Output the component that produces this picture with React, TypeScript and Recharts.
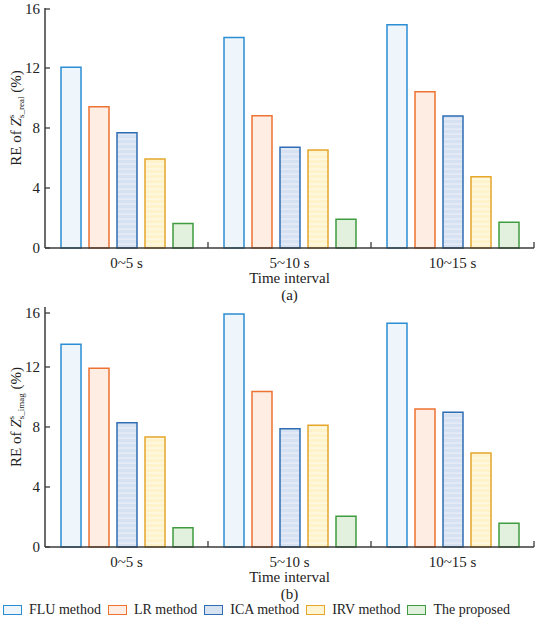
import React from "react";
import { Bar, BarChart, XAxis, YAxis } from "recharts";

const FONT = '"Liberation Serif", "Times New Roman", serif';
const AXIS = "#3b3b3b";

const categories = ["0~5 s", "5~10 s", "10~15 s"];
const seriesNames = ["FLU method", "LR method", "ICA method", "IRV method", "The proposed"];
const yTicks = [0, 4, 8, 12, 16];

// (a) real part
const realFlu = [12.05, 14.04, 14.89];
const realLr = [9.42, 8.82, 10.42];
const realIca = [7.69, 6.71, 8.8];
const realIrv = [5.93, 6.53, 4.75];
const realProposed = [1.64, 1.91, 1.71];

// (b) imaginary part
const imagFlu = [13.51, 15.53, 14.91];
const imagLr = [11.91, 10.36, 9.2];
const imagIca = [8.29, 7.89, 8.98];
const imagIrv = [7.33, 8.11, 6.27];
const imagProposed = [1.29, 2.05, 1.58];

const strokes = ["#2b8dd3", "#ee7232", "#2e6db4", "#e5a62b", "#3f9b3f"];
const fills = ["#eef6fb", "#fdede3", "url(#icaStripe)", "url(#irvStripe)", "#e2f1dd"];
const legendFills = ["#eef6fb", "#fdede3", "#d8e3f2", "#fff5d2", "#e2f1dd"];

function buildRows(cols: number[][]) {
  return categories.map((name, i) => {
    const row: Record<string, any> = { name };
    cols.forEach((c, k) => (row["s" + k] = c[i]));
    return row;
  });
}

const realRows = buildRows([realFlu, realLr, realIca, realIrv, realProposed]);
const imagRows = buildRows([imagFlu, imagLr, imagIca, imagIrv, imagProposed]);

function XTick(props: any) {
  const { x, y, payload } = props;
  const half = payload && payload.offset ? payload.offset : 81.5;
  return (
    <g>
      <line x1={x + half} x2={x + half} y1={y - 8} y2={y - 14} stroke={AXIS} strokeWidth={1.3} />
      <text x={x} y={y + 12} textAnchor="middle" fontSize={15} fill="#222" fontFamily={FONT}>
        {payload.value}
      </text>
    </g>
  );
}

function YTick(props: any) {
  const { x, y, payload } = props;
  return (
    <g>
      <line x1={x + 4} x2={x + 9} y1={y} y2={y} stroke={AXIS} strokeWidth={1.3} />
      <text x={x - 1} y={y + 5} textAnchor="end" fontSize={15} fill="#222" fontFamily={FONT}>
        {payload.value}
      </text>
    </g>
  );
}

function YLabel(props: any) {
  const { viewBox, sub } = props;
  const cx = 21;
  const cy = viewBox.y + viewBox.height / 2 - 10;
  return (
    <text
      x={cx}
      y={cy}
      transform={`rotate(-90 ${cx} ${cy})`}
      textAnchor="middle"
      fontSize={15}
      fill="#222"
      fontFamily={FONT}
    >
      <tspan>RE of </tspan>
      <tspan fontStyle="italic">Z</tspan>
      <tspan fontSize={9} dy={-7}>s</tspan>
      <tspan fontSize={9} dx={-3.5} dy={10}>{sub}</tspan>
      <tspan dy={-3}> (%)</tspan>
    </text>
  );
}

function XLabel(props: any) {
  const { viewBox, tag } = props;
  const cx = viewBox.x + viewBox.width / 2;
  return (
    <g fontFamily={FONT} fontSize={15} fill="#222">
      <text x={cx} y={viewBox.y + 35} textAnchor="middle">Time interval</text>
      <text x={cx} y={viewBox.y + 52} textAnchor="middle">{tag}</text>
    </g>
  );
}

function Panel({ rows, sub, tag, top, height }: { rows: any[]; sub: string; tag: string; top: number; height: number }) {
  return (
    <BarChart
      width={550}
      height={height}
      data={rows}
      margin={{ top, right: 16, bottom: 0, left: 0 }}
      barGap={8}
      barSize={20}
    >
      <XAxis
        dataKey="name"
        height={height - top - 240}
        tickSize={0}
        tickMargin={8}
        tickLine={false}
        axisLine={{ stroke: AXIS, strokeWidth: 1.5 }}
        tick={<XTick />}
        interval={0}
        label={<XLabel tag={tag} />}
      />
      <YAxis
        width={45}
        domain={[0, 16]}
        ticks={yTicks}
        tickSize={0}
        tickMargin={4}
        tickLine={false}
        axisLine={{ stroke: AXIS, strokeWidth: 1.5 }}
        tick={<YTick />}
        label={<YLabel sub={sub} />}
      />
      {seriesNames.map((n, i) => (
        <Bar
          key={n}
          dataKey={"s" + i}
          name={n}
          fill={fills[i]}
          stroke={strokes[i]}
          strokeWidth={1.5}
          isAnimationActive={false}
        />
      ))}
    </BarChart>
  );
}

export default function App() {
  return (
    <div style={{ width: 550, height: 619, position: "relative", background: "#fff", fontFamily: FONT }}>
      <style>{"body{margin:0}"}</style>
      <svg width={0} height={0} style={{ position: "absolute" }}>
        <defs>
          <pattern id="icaStripe" width="6" height="5" patternUnits="userSpaceOnUse">
            <rect width="6" height="5" fill="#d6e2f2" />
            <rect y="3.5" width="6" height="1.2" fill="#eaf0f9" />
          </pattern>
          <pattern id="irvStripe" width="6" height="5" patternUnits="userSpaceOnUse">
            <rect width="6" height="5" fill="#fff3cc" />
            <rect y="3.5" width="6" height="1.2" fill="#fffbeb" />
          </pattern>
        </defs>
      </svg>
      <Panel rows={realRows} sub="s_real" tag="(a)" top={8} height={304} />
      <Panel rows={imagRows} sub="s_imag" tag="(b)" top={3} height={298} />
      <div
        style={{
          display: "flex",
          alignItems: "center",
          gap: 7,
          marginLeft: 3,
          marginTop: -2,
          height: 19,
          fontSize: 14,
          color: "#222",
          whiteSpace: "nowrap",
        }}
      >
        {seriesNames.map((n, i) => (
          <div key={n} style={{ display: "flex", alignItems: "center", gap: 7 }}>
            <span
              style={{
                display: "inline-block",
                width: 17,
                height: 8,
                border: `1.5px solid ${strokes[i]}`,
                background: legendFills[i],
              }}
            />
            <span>{n}</span>
          </div>
        ))}
      </div>
    </div>
  );
}
